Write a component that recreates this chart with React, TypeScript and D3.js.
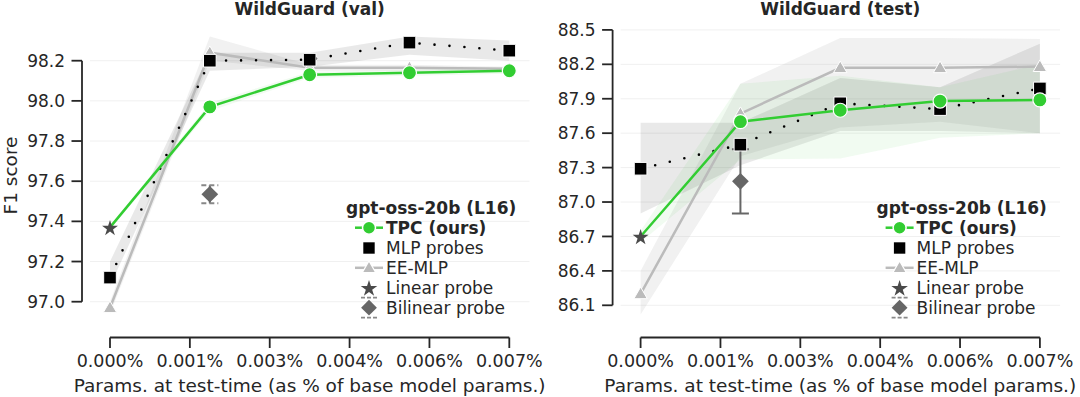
import React from "react";
import * as d3 from "d3";

// x positions are already in percent of base model params
const xs = [0, 0.00175, 0.0035, 0.00525, 0.007];
const xTicks = [0, 0.0014, 0.0028, 0.0042, 0.0056, 0.007];

// WildGuard (val)
const valTicks = [97.0, 97.2, 97.4, 97.6, 97.8, 98.0, 98.2];
const tpcVal = [97.37, 97.97, 98.13, 98.14, 98.15];
const tpcValLo = [97.36, 97.95, 98.115, 98.125, 98.135];
const tpcValHi = [97.38, 97.99, 98.145, 98.155, 98.165];
const mlpVal = [97.12, 98.2, 98.205, 98.29, 98.25];
const mlpValLo = [97.08, 98.15, 98.17, 98.23, 98.2];
const mlpValHi = [97.2, 98.24, 98.24, 98.32, 98.3];
const eeVal = [96.97, 98.24, 98.165, 98.165, 98.16];
const eeValLo = [96.94, 98.2, 98.15, 98.15, 98.15];
const eeValHi = [97.0, 98.32, 98.18, 98.18, 98.17];
const linearVal = 97.37;
const bilinearVal = 97.535;
const bilinearValErr = 0.045;

// WildGuard (test)
const testTicks = [86.1, 86.4, 86.7, 87.0, 87.3, 87.6, 87.9, 88.2, 88.5];
const tpcTest = [86.7, 87.7, 87.8, 87.88, 87.89];
const tpcTestLo = [86.65, 87.37, 87.38, 87.56, 87.6];
const tpcTestHi = [86.75, 88.03, 88.1, 88.0, 88.2];
const mlpTest = [87.29, 87.5, 87.86, 87.81, 87.99];
const mlpTestLo = [86.9, 87.32, 87.62, 87.62, 87.6];
const mlpTestHi = [87.69, 87.69, 88.08, 88.0, 88.38];
const eeTest = [86.2, 87.77, 88.17, 88.17, 88.18];
const eeTestLo = [86.02, 87.4, 87.65, 87.7, 87.6];
const eeTestHi = [86.4, 88.03, 88.43, 88.43, 88.42];
const linearTest = 86.7;
const bilinearTest = 87.18;
const bilinearTestErr = 0.28;

const legendLabels = ["TPC (ours)", "MLP probes", "EE-MLP", "Linear probe", "Bilinear probe"];

const FONT = "DejaVu Sans, sans-serif";
const GREEN = "#32cd32";
const EE = "#bbbbbb";
const TXT = "#262626";

const sym = (type, size) => d3.symbol().type(type).size(size)();

function Panel({ dx, title, ticks, yDom, yRange, tpc, tpcLo, tpcHi, mlp, mlpLo, mlpHi, ee, eeLo, eeHi, linear, bil, bilErr, dashedCaps, showYLabel }) {
  const x = d3.scaleLinear().domain([0, 0.007]).range([110 + dx, 509.3 + dx]);
  const y = d3.scaleLinear().domain(yDom).range(yRange);
  const line = d3.line().x((d, i) => x(xs[i])).y(d => y(d));
  const area = (lo, hi) =>
    d3.area().x((d, i) => x(xs[i])).y0((d, i) => y(lo[i])).y1((d, i) => y(hi[i]))(lo);
  const spineX = 82 + dx;
  const axisY = 337.5;
  const tickLen = 10.5;
  const fmt = d => d3.format(".3f")(d) + "%";
  const midX = (x(0) + x(0.007)) / 2;

  const lx = 369 + dx;
  const ly = [227.7, 248, 267.8, 287.8, 307.7];

  return (
    <g>
      <text x={midX} y={15} textAnchor="middle" fontWeight="bold" fontSize={17} fill={TXT}>{title}</text>
      {/* grid */}
      {ticks.map(t => (
        <line key={t} x1={90 + dx} x2={529.5 + dx} y1={y(t)} y2={y(t)} stroke="#f0f0f0" strokeWidth={1} />
      ))}
      {/* bands */}
      <path d={area(eeLo, eeHi)} fill={EE} fillOpacity={0.2} />
      <path d={area(mlpLo, mlpHi)} fill="#000" fillOpacity={0.085} />
      <path d={area(tpcLo, tpcHi)} fill={GREEN} fillOpacity={0.07} />
      {/* EE-MLP */}
      <path d={line(ee)} fill="none" stroke={EE} strokeWidth={2.5} />
      {ee.map((v, i) => (
        <path key={i} d={sym(d3.symbolTriangle, 78)} transform={`translate(${x(xs[i])},${y(v) + 1})`} fill={EE} stroke="#fff" strokeWidth={1} />
      ))}
      {/* Bilinear probe error bar (under the MLP markers) */}
      <line x1={x(xs[1])} x2={x(xs[1])} y1={y(bil + bilErr)} y2={y(bil - bilErr)} stroke="#666" strokeWidth={2} />
      {[bil + bilErr, bil - bilErr].map((v, i) => (
        <line key={i} x1={x(xs[1]) - 8.5} x2={x(xs[1]) + 8.5} y1={y(v)} y2={y(v)} stroke={dashedCaps ? "#888" : "#666"} strokeWidth={2} strokeDasharray={dashedCaps ? "5 3" : null} />
      ))}
      {/* MLP probes */}
      <path d={line(mlp)} fill="none" stroke="#000" strokeWidth={2.6} strokeDasharray="0 15" strokeLinecap="round" />
      {mlp.map((v, i) => (
        <path key={i} d={sym(d3.symbolSquare, 160)} transform={`translate(${x(xs[i])},${y(v)})`} fill="#000" stroke="#fff" strokeWidth={1} />
      ))}
      {/* TPC */}
      <path d={line(tpc)} fill="none" stroke={GREEN} strokeWidth={2.5} />
      {tpc.map((v, i) => i === 0 ? null : (
        <circle key={i} cx={x(xs[i])} cy={y(v)} r={7} fill={GREEN} stroke="#fff" strokeWidth={1.2} />
      ))}
      {/* Linear probe */}
      <path d={sym(d3.symbolStar, 78)} transform={`translate(${x(0)},${y(linear) + 1})`} fill="#4a4a4a" />
      {/* Bilinear probe marker */}
      <path d={sym(d3.symbolSquare, 140)} transform={`translate(${x(xs[1])},${y(bil)}) rotate(45)`} fill="#666" />
      {/* axes */}
      <line x1={spineX} x2={spineX} y1={y(ticks[ticks.length - 1])} y2={y(ticks[0])} stroke={TXT} strokeWidth={1.8} />
      {ticks.map(t => (
        <g key={t}>
          <line x1={spineX - tickLen} x2={spineX} y1={y(t)} y2={y(t)} stroke={TXT} strokeWidth={1.8} />
          <text x={spineX - 17} y={y(t)} dy="0.36em" textAnchor="end" fontSize={17} fill={TXT}>{t.toFixed(1)}</text>
        </g>
      ))}
      <line x1={x(0)} x2={x(0.007)} y1={axisY} y2={axisY} stroke={TXT} strokeWidth={1.8} />
      {xTicks.map(t => (
        <g key={t}>
          <line x1={x(t)} x2={x(t)} y1={axisY} y2={axisY + tickLen} stroke={TXT} strokeWidth={1.8} />
          <text x={x(t)} y={367.3} textAnchor="middle" fontSize={17.5} fill={TXT}>{fmt(t)}</text>
        </g>
      ))}
      <text x={midX} y={391.5} textAnchor="middle" fontSize={18.5} fill={TXT}>Params. at test-time (as % of base model params.)</text>
      {showYLabel && (
        <text transform={`translate(17,175.5) rotate(-90)`} textAnchor="middle" fontSize={18.5} fill={TXT}>F1 score</text>
      )}
      {/* legend */}
      <text x={346 + dx} y={207.7} dy="0.35em" fontWeight="bold" fontSize={17} fill={TXT}>gpt-oss-20b (L16)</text>
      <line x1={lx - 14} x2={lx + 14} y1={ly[0]} y2={ly[0]} stroke={GREEN} strokeWidth={2.5} />
      <circle cx={lx} cy={ly[0]} r={6.5} fill={GREEN} stroke="#fff" strokeWidth={1.5} />
      <path d={sym(d3.symbolSquare, 130)} transform={`translate(${lx},${ly[1]})`} fill="#000" />
      <line x1={lx - 14} x2={lx + 14} y1={ly[2]} y2={ly[2]} stroke={EE} strokeWidth={2.5} />
      <path d={sym(d3.symbolTriangle, 80)} transform={`translate(${lx},${ly[2] + 1})`} fill={EE} stroke="#fff" strokeWidth={1.2} />
      <path d={sym(d3.symbolStar, 85)} transform={`translate(${lx},${ly[3] + 1})`} fill="#4a4a4a" />
      <line x1={lx - 8} x2={lx + 8} y1={ly[4] - 10} y2={ly[4] - 10} stroke="#888" strokeWidth={1.8} strokeDasharray="4 2" />
      <line x1={lx - 8} x2={lx + 8} y1={ly[4] + 10} y2={ly[4] + 10} stroke="#888" strokeWidth={1.8} strokeDasharray="4 2" />
      <path d={sym(d3.symbolSquare, 125)} transform={`translate(${lx},${ly[4]}) rotate(45)`} fill="#666" />
      {legendLabels.map((s, i) => (
        <text key={s} x={lx + 17} y={ly[i]} dy="0.35em" fontSize={17} fill={TXT} fontWeight={i === 0 ? "bold" : "normal"}>{s}</text>
      ))}
    </g>
  );
}

export default function App() {
  return (
    <svg width={1080} height={397} style={{ position: "absolute", left: 0, top: 0, background: "#fff" }} fontFamily={FONT}>
      <Panel dx={0} title="WildGuard (val)" ticks={valTicks} yDom={[97.0, 98.2]} yRange={[301.7, 60.7]}
        tpc={tpcVal} tpcLo={tpcValLo} tpcHi={tpcValHi} mlp={mlpVal} mlpLo={mlpValLo} mlpHi={mlpValHi}
        ee={eeVal} eeLo={eeValLo} eeHi={eeValHi} linear={linearVal} bil={bilinearVal} bilErr={bilinearValErr}
        dashedCaps={true} showYLabel={true} />
      <Panel dx={530.6} title="WildGuard (test)" ticks={testTicks} yDom={[86.1, 88.5]} yRange={[305.3, 29.9]}
        tpc={tpcTest} tpcLo={tpcTestLo} tpcHi={tpcTestHi} mlp={mlpTest} mlpLo={mlpTestLo} mlpHi={mlpTestHi}
        ee={eeTest} eeLo={eeTestLo} eeHi={eeTestHi} linear={linearTest} bil={bilinearTest} bilErr={bilinearTestErr}
        dashedCaps={false} showYLabel={false} />
    </svg>
  );
}
